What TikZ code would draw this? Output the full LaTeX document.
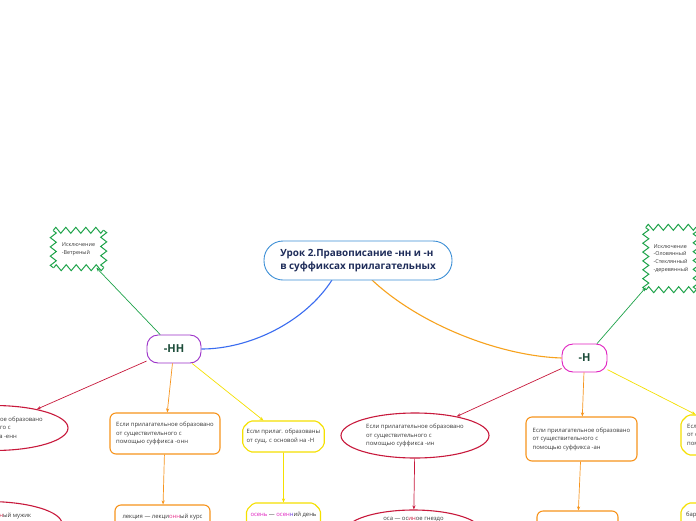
\documentclass[tikz,border=0pt]{standalone}
\usepackage{fontspec}
\setmainfont{Open Sans}
\usetikzlibrary{shapes.geometric,shapes.misc,arrows.meta,decorations.pathmorphing}
\definecolor{cblue}{HTML}{3D8FD6}
\definecolor{cnavy}{HTML}{1F2D5A}
\definecolor{cpurple}{HTML}{9B30C8}
\definecolor{cmag}{HTML}{E020C0}
\definecolor{cgreen}{HTML}{1FA34A}
\definecolor{cred}{HTML}{C8193C}
\definecolor{corange}{HTML}{F7941D}
\definecolor{cyellow}{HTML}{F5E000}
\definecolor{ctext}{HTML}{3A3A3A}
\definecolor{cteal}{HTML}{1D4D3A}
\definecolor{clink}{HTML}{3A6CF0}
\definecolor{ccurve}{HTML}{F7A21D}
\definecolor{cpink}{HTML}{E8308C}
\definecolor{cviolet}{HTML}{6A3CE0}
\tikzset{
  small/.style={font=\fontsize{5.9}{8.5}\selectfont, text=ctext, align=left, inner sep=0pt},
  central/.style={draw=cblue, line width=0.9pt, rounded corners=19pt, minimum width=188pt, minimum height=39pt,
    font=\fontsize{9.9}{13}\selectfont\bfseries, text=cnavy, align=left, fill=white},
  topic/.style={draw=#1, line width=0.9pt, rounded corners=11pt, minimum height=28pt,
    font=\fontsize{11}{13}\selectfont\bfseries, text=cteal, fill=white},
  exc/.style={small, font=\fontsize{5.4}{7.8}\selectfont},
  zz/.style={draw=cgreen, line width=1pt, line join=miter, decorate, decoration={zigzag, segment length=#1, amplitude=3pt}},
  redell/.style={ellipse, draw=cred, line width=1.1pt, minimum width=148pt, minimum height=45pt, small},
  orbox/.style={draw=corange, line width=1.1pt, rounded corners=6pt, small},
  yelbox/.style={chamfered rectangle, chamfered rectangle xsep=4pt, chamfered rectangle ysep=3pt,
    draw=cyellow, line width=1.1pt, rounded corners=2pt, small},
  arr/.style={-{Stealth[length=4pt,width=3.2pt]}, line width=0.7pt},
}
\begin{document}
\begin{tikzpicture}[x=1pt,y=-1pt]
\useasboundingbox (0,0) rectangle (696,520);
\clip (0,0) rectangle (696,520);
\fill[white] (0,0) rectangle (696,520);

% curves from central
\coordinate (cL) at (332,280);
\coordinate (cR) at (372,280);
\node[topic=cpurple, minimum width=54pt] (nn) at (174,349) {-НН};
\node[topic=cmag, minimum width=45pt] (n) at (584.5,358) {-Н};
\draw[clink, line width=1.1pt] (cL) .. controls (305,322) and (250,349) .. (nn.east);
\draw[ccurve, line width=1.1pt] (cR) .. controls (420,325) and (500,356) .. (n.west);
\node[central] (c) at (358,260.5) {Урок 2.Правописание -нн и -н\\в суффиксах прилагательных};

% exceptions
\node[exc, minimum width=50pt, minimum height=37pt] (exL) at (78.5,249) {Исключение\\-Ветреный};
\draw[zz=10pt] (exL.north west) -- (exL.north east);
\draw[zz=9.25pt] (exL.north east) -- (exL.south east);
\draw[zz=10pt] (exL.south east) -- (exL.south west);
\draw[zz=9.25pt] (exL.south west) -- (exL.north west);
\node[exc, minimum width=50pt, minimum height=62pt] (exR) at (671,258.5) {Исключение\\-Оловянный\\-Стеклянный\\-деревянный};
\draw[zz=10pt] (exR.north west) -- (exR.north east);
\draw[zz=8.857pt] (exR.north east) -- (exR.south east);
\draw[zz=10pt] (exR.south east) -- (exR.south west);
\draw[zz=8.857pt] (exR.south west) -- (exR.north west);
\draw[arr, cgreen] (nn) -- (exL);
\draw[arr, cgreen] (n) -- (exR);

% -НН children
\node[redell] (L1) at (-6,428) {Если прилагательное образовано\\ от существительного с\\помощью суффикса -енн};
\node[orbox, minimum width=110pt, minimum height=41pt] (L2) at (165,433.5) {Если прилагательное образовано\\ от существительного с\\помощью суффикса -онн};
\node[yelbox, minimum width=73pt, minimum height=31pt] (L3) at (283.5,436.5) {Если прилаг. образованы\\от сущ. с основой на -Н};
\draw[arr, cred] (nn) -- (L1);
\draw[arr, corange] (nn) -- (L2);
\draw[arr, cyellow] (nn) -- (L3);

\node[redell, minimum width=148pt, minimum height=45pt] (L1b) at (-12,524) {солома — солом\textcolor{cred}{енн}ый мужик\\ \\ };
\node[orbox, minimum width=95pt, minimum height=40pt] (L2b) at (162.5,525) {лекция — лекци\textcolor{cpink}{онн}ый курс\\ \\ };
\node[yelbox, minimum width=70pt, minimum height=40pt] (L3b) at (283.5,523) {\textcolor{cmag}{осень} — \textcolor{cmag}{осен}\textcolor{cviolet}{н}ий день\\ \\ };
\draw[arr, cred] (L1) -- (L1b);
\draw[arr, corange] (L2) -- (L2b);
\draw[arr, cyellow] (L3) -- (L3b);

% -Н children
\node[redell] (R1) at (415,435.5) {Если прилагательное образовано\\ от существительного с\\помощью суффикса -ин};
\node[orbox, minimum width=111pt, minimum height=44pt] (R2) at (581.5,439) {Если прилагательное образовано\\ от существительного с\\помощью суффикса -ан};
\node[yelbox, minimum width=110pt, minimum height=40pt] (R3) at (736,435) {Если прилагательное образовано\\ от существительного с\\помощью суффикса -ян};
\draw[arr, cred] (n) -- (R1);
\draw[arr, corange] (n) -- (R2);
\draw[arr, cyellow] (n) -- (R3);

\node[redell, minimum width=137pt, minimum height=44pt] (R1b) at (413.5,532) {оса — ос\textcolor{cred}{ин}ое гнездо\\ \\ \\ };
\node[orbox, minimum width=81pt, minimum height=40pt] (R2b) at (577.5,531) {кожа — кож\textcolor{cred}{ан}ый ремень};
\node[yelbox, minimum width=110pt, minimum height=40pt, text width=100pt] (R3b) at (736,523) {баран — бараний\\\mbox{}\\\mbox{}};
\draw[arr, cred] (R1) -- (R1b);
\draw[arr, corange] (R2) -- (R2b);
\draw[arr, cyellow] (R3) -- (R3b);
\end{tikzpicture}
\end{document}
